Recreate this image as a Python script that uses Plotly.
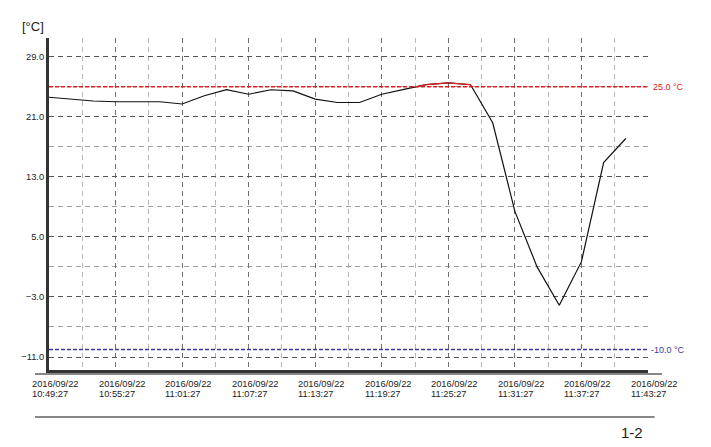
import plotly.graph_objects as go
import pandas as pd

# ---------------- data ----------------
times = [
    "2016-09-22 10:49:27", "2016-09-22 10:51:27", "2016-09-22 10:53:27", "2016-09-22 10:55:27",
    "2016-09-22 10:57:27", "2016-09-22 10:59:27", "2016-09-22 11:01:27", "2016-09-22 11:03:27",
    "2016-09-22 11:05:27", "2016-09-22 11:07:27", "2016-09-22 11:09:27", "2016-09-22 11:11:27",
    "2016-09-22 11:13:27", "2016-09-22 11:15:27", "2016-09-22 11:17:27", "2016-09-22 11:19:27",
    "2016-09-22 11:21:27", "2016-09-22 11:23:27", "2016-09-22 11:25:27", "2016-09-22 11:27:27",
    "2016-09-22 11:29:27", "2016-09-22 11:31:27", "2016-09-22 11:33:27", "2016-09-22 11:35:27",
    "2016-09-22 11:37:27", "2016-09-22 11:39:27", "2016-09-22 11:41:27",
]
temps = [
    23.6, 23.3, 23.1, 23.0, 23.0, 23.0, 22.7, 23.8,
    24.6, 24.0, 24.6, 24.45, 23.35, 22.9, 22.9, 24.0,
    24.65, 25.27, 25.5, 25.27, 20.2, 8.4, 1.0, -4.1,
    1.7, 14.9, 18.1,
]
upper_limit = 25.0
lower_limit = -10.0
upper_label = "25.0 °C"
lower_label = "-10.0 °C"

tick_times = [
    "2016-09-22 10:49:27", "2016-09-22 10:55:27", "2016-09-22 11:01:27", "2016-09-22 11:07:27",
    "2016-09-22 11:13:27", "2016-09-22 11:19:27", "2016-09-22 11:25:27", "2016-09-22 11:31:27",
    "2016-09-22 11:37:27", "2016-09-22 11:43:27",
]
tick_dates = ["2016/09/22"] * len(tick_times)
tick_clock = ["10:49:27", "10:55:27", "11:01:27", "11:07:27", "11:13:27",
              "11:19:27", "11:25:27", "11:31:27", "11:37:27", "11:43:27"]
y_title = "[°C]"
page_label = "1-2"

# ---------------- derived: parts of the curve above the upper limit ----------------
ts = pd.to_datetime(times)
red_x, red_y = [], []
for i in range(len(temps) - 1):
    a, b = temps[i], temps[i + 1]
    ta, tb = ts[i], ts[i + 1]
    if a < upper_limit and b < upper_limit:
        continue
    def cross():
        f = (upper_limit - a) / (b - a)
        return ta + (tb - ta) * f
    if a >= upper_limit and b >= upper_limit:
        seg = [(ta, a), (tb, b)]
    elif a < upper_limit:
        seg = [(cross(), upper_limit), (tb, b)]
    else:
        seg = [(ta, a), (cross(), upper_limit)]
    for t, v in seg:
        red_x.append(t)
        red_y.append(v)
    red_x.append(None)
    red_y.append(None)

FONT = "Liberation Sans, Arial, sans-serif"
TXT = "#222222"
RED = "#e02020"
BLUE = "#3a3a9c"

fig = go.Figure()
fig.add_trace(go.Scatter(x=ts, y=temps, mode="lines",
                         line=dict(color="#111111", width=1.2), hoverinfo="skip"))
fig.add_trace(go.Scatter(x=red_x, y=red_y, mode="lines",
                         line=dict(color=RED, width=1.2), hoverinfo="skip"))

# threshold lines
fig.add_shape(type="line", xref="paper", x0=0, x1=1, yref="y", y0=upper_limit, y1=upper_limit,
              line=dict(color=RED, width=1.5, dash="4px,2px"), layer="above")
fig.add_shape(type="line", xref="paper", x0=0, x1=1, yref="y", y0=lower_limit, y1=lower_limit,
              line=dict(color=BLUE, width=1.5, dash="4px,2px"), layer="above")
fig.add_annotation(xref="paper", x=1, yref="y", y=upper_limit, text=upper_label, showarrow=False,
                   xanchor="left", xshift=3, font=dict(family=FONT, size=9, color=RED))
fig.add_annotation(xref="paper", x=1, yref="y", y=lower_limit, text=lower_label, showarrow=False,
                   xanchor="left", xshift=1, font=dict(family=FONT, size=9, color=BLUE))

# x labels (left aligned two-line)
for t, d, c in zip(tick_times, tick_dates, tick_clock):
    fig.add_annotation(xref="x", x=t, yref="paper", y=-0.042, text=d, showarrow=False,
                       xanchor="left", yanchor="middle", xshift=-19,
                       font=dict(family=FONT, size=9.3, color=TXT))
    fig.add_annotation(xref="x", x=t, yref="paper", y=-0.072, text=c, showarrow=False,
                       xanchor="left", yanchor="middle", xshift=-19,
                       font=dict(family=FONT, size=9.3, color=TXT))

# decorative rules below the chart
fig.add_shape(type="line", xref="paper", x0=-0.0234, x1=1.0234, yref="paper", y0=-0.012, y1=-0.012,
              line=dict(color="#111111", width=1.2))
fig.add_shape(type="line", xref="paper", x0=-0.0234, x1=1.011, yref="paper", y0=-0.1416, y1=-0.1416,
              line=dict(color="#111111", width=1.2))
fig.add_annotation(xref="paper", x=0.995, yref="paper", y=-0.187, text=page_label, showarrow=False,
                   xanchor="right", yanchor="middle", font=dict(family=FONT, size=15, color=TXT))
fig.add_annotation(xref="paper", x=-0.0275, yref="paper", y=1.034, text=y_title, showarrow=False,
                   xanchor="center", yanchor="middle", font=dict(family=FONT, size=13, color=TXT))

# the page body adds an 8px margin, so the figure is 8px smaller on each leading side
fig.update_layout(
    width=703, height=439,
    margin=dict(l=41, r=63, t=30, b=77),
    paper_bgcolor="white", plot_bgcolor="white",
    showlegend=False,
    font=dict(family=FONT, size=9.3, color=TXT),
)
fig.update_xaxes(
    type="date",
    range=[tick_times[0], tick_times[-1]],
    tick0=tick_times[0], dtick=360000,
    showticklabels=False, ticks="",
    showgrid=True, gridcolor="#707070", griddash="5px,4px", gridwidth=1,
    minor=dict(dtick=180000, tick0=tick_times[0], showgrid=True, gridcolor="#b8b8b8",
               griddash="5px,4px", gridwidth=1, ticks=""),
    showline=True, linecolor="#333333", linewidth=3,
    zeroline=False,
)
fig.update_yaxes(
    range=[-12.73, 31.49],
    tick0=-11, dtick=8, tickformat=".1f",
    ticks="", tickfont=dict(family=FONT, size=9.3, color=TXT),
    showgrid=True, gridcolor="#555555", griddash="5px,4px", gridwidth=1,
    minor=dict(dtick=4, tick0=-11, showgrid=True, gridcolor="#a0a0a0",
               griddash="5px,4px", gridwidth=1, ticks=""),
    showline=True, linecolor="#333333", linewidth=3,
    zeroline=False,
)

fig.write_html("out.html")
